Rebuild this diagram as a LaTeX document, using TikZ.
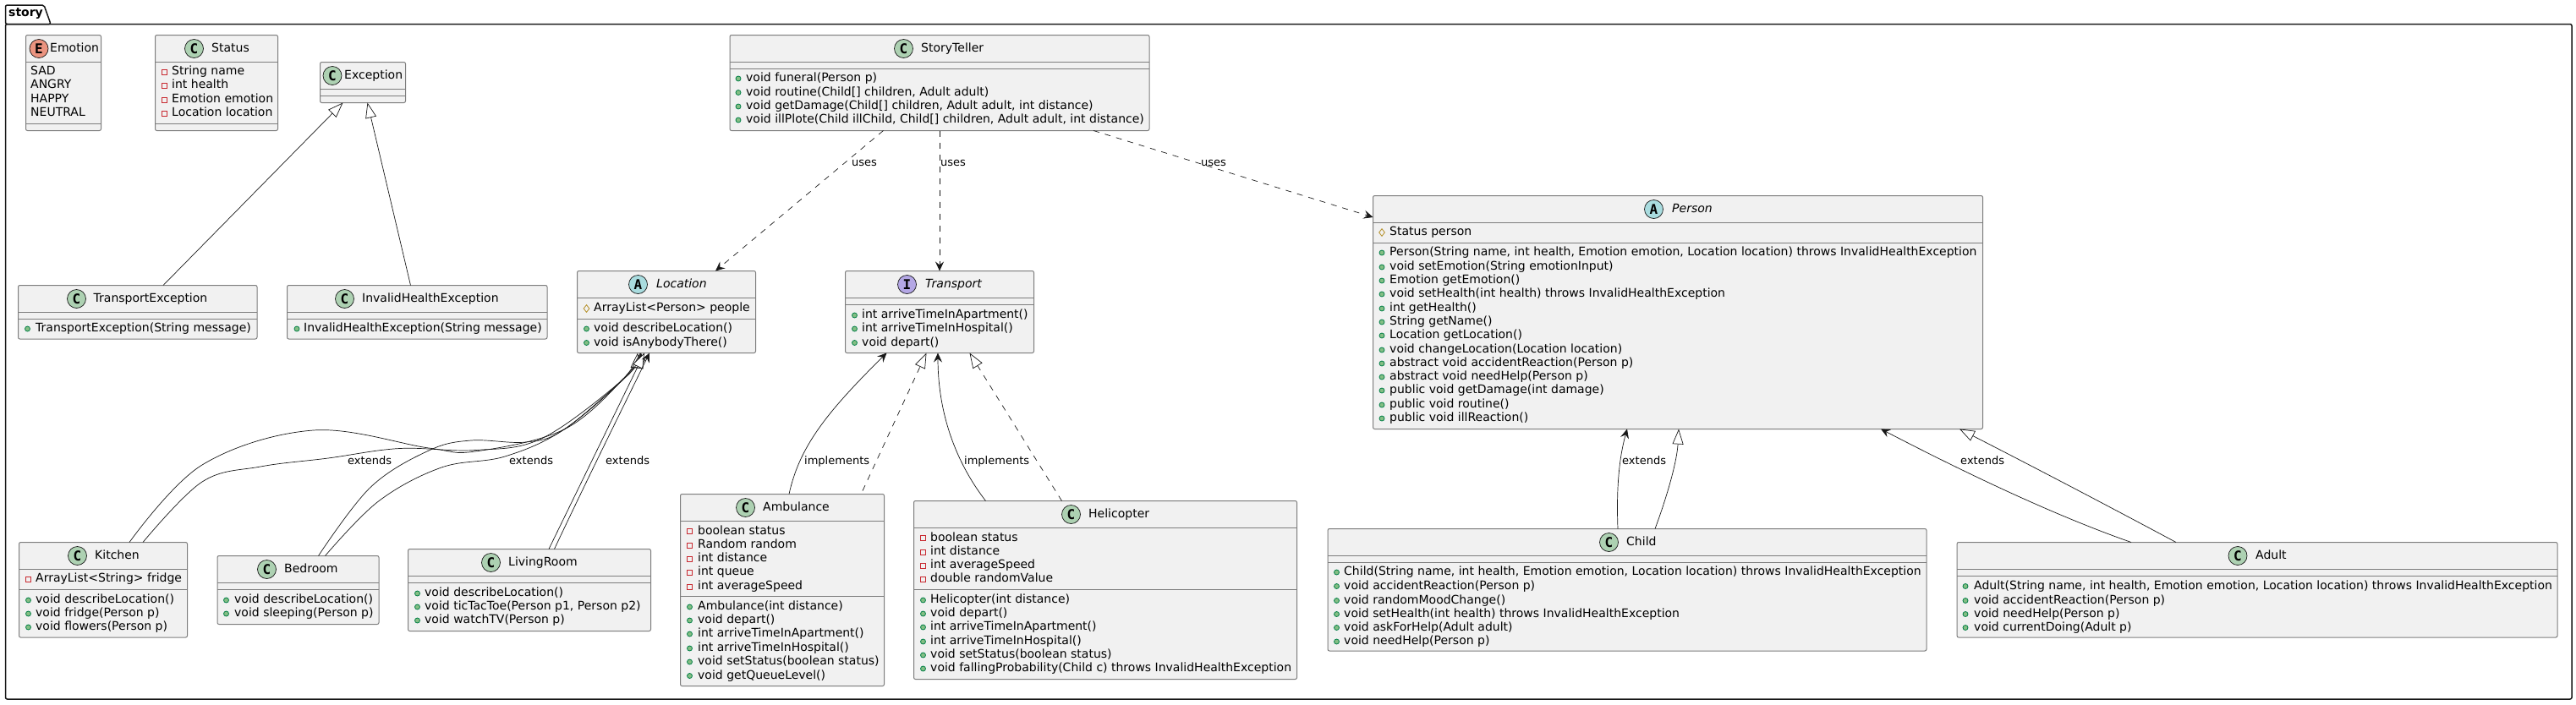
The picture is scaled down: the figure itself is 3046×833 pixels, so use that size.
\documentclass[tikz,border=0pt]{standalone}
\usepackage{fontspec}
\setmainfont{DejaVu Sans}
\setmonofont{DejaVu Sans Mono}
\usetikzlibrary{arrows.meta, shapes.geometric}
\definecolor{boxfill}{RGB}{241, 241, 241}
\definecolor{boxline}{RGB}{125, 125, 125}
\definecolor{inkline}{RGB}{24, 24, 24}
\definecolor{spotclass}{RGB}{173, 209, 178}
\definecolor{spotabstract}{RGB}{169, 220, 223}
\definecolor{spotiface}{RGB}{180, 167, 229}
\definecolor{spotenum}{RGB}{235, 147, 127}
\definecolor{pubfill}{RGB}{132, 190, 132}
\definecolor{publine}{RGB}{3, 128, 72}
\definecolor{privline}{RGB}{200, 41, 48}
\definecolor{protline}{RGB}{179, 141, 34}
\tikzset{
  classbox/.style={draw=boxline, fill=boxfill, line width=1pt, rounded corners=2pt, inner sep=0pt, outer sep=0pt},
  seprule/.style={draw=boxline, line width=1pt},
  spotmark/.style={circle, draw=inkline, line width=0.7pt, minimum size=22pt, inner sep=0pt, font=\ttfamily\bfseries\fontsize{16}{16}\selectfont},
  titletext/.style={anchor=west, inner sep=0pt, text height=10.5pt, text depth=3pt, font=\fontsize{14}{16}\selectfont},
  rowtext/.style={anchor=west, inner sep=0pt, text height=10.5pt, text depth=3pt, font=\fontsize{14}{16}\selectfont},
  edgelabel/.style={anchor=west, inner sep=0pt, text height=10.5pt, text depth=3pt, text=black, font=\fontsize{13}{16}\selectfont},
  pubmark/.style={circle, draw=publine, fill=pubfill, line width=0.8pt, minimum size=6pt, inner sep=0pt},
  privmark/.style={rectangle, draw=privline, line width=0.8pt, minimum size=6pt, inner sep=0pt},
  protmark/.style={diamond, draw=protline, line width=0.8pt, minimum width=7pt, minimum height=9pt, inner sep=0pt},
  uses/.style={draw=inkline, line width=0.7pt, dashed, dash pattern=on 7pt off 7pt, -{Stealth[length=11pt, width=10pt, inset=4pt]}},
  assoc/.style={draw=inkline, line width=0.7pt, -{Stealth[length=11pt, width=10pt, inset=4pt]}},
  inherit/.style={draw=inkline, line width=0.7pt, -{Triangle[length=18pt, width=13pt, fill=white]}},
  realize/.style={inherit, dash pattern=on 7pt off 7pt},
}
\newcommand{\memberrows}[4]{%
  \foreach \kind/\ypos/\txt [count=\i] in {#4}{
    \node[\kind] (#1mark\i) at (#2,\ypos) {};
    \node[rowtext] (#1row\i) at (#3,\ypos) {\txt};
  }%
}
\begin{document}
\begin{tikzpicture}[x=1pt, y=-1pt]
  \useasboundingbox (0,0) rectangle (3046,833);

  % package frame
  \draw[inkline, line width=1.5pt, rounded corners=2pt] (6.5,28.5) -- (6.5,6) -- (52,6) -- (60,28.5) -- cycle;
  \draw[inkline, line width=1.5pt, rounded corners=2pt] (6.5,28.5) rectangle (3041,827);
  \node[titletext, font=\bfseries\fontsize{14}{16}\selectfont] (packagename) at (10,16) {story};

  % class boxes: name, corners, two compartment rules
  \foreach \name/\xa/\ya/\xb/\yb/\sa/\sb in {
      emotion/30.5/41.5/119.5/154.5/73.5/146.5,
      status/183.5/41.5/328.5/154.5/73.5/146.5,
      exception/378.5/73.5/479.5/121.5/105.5/113.5,
      transportexc/21.5/337.5/304/401/369.5/377.5,
      healthexc/339.5/337.5/647/401/369.5/377.5,
      location/682.5/320.5/893.5/417.5/352.5/377.5,
      kitchen/22.5/641.5/221.5/754/673.5/697.5,
      bedroom/257/657.5/448/738.5/689.5/697.5,
      livingroom/482.5/649.5/769.5/746.5/681.5/689.5,
      storyteller/863/41.5/1359/154.5/73.5/81.5,
      transport/999.5/320.5/1222.5/417.5/352.5/360.5,
      ambulance/804.5/584.5/1045.5/811.5/616.5/705.5,
      helicopter/1080.5/592.5/1533.5/803.5/624.5/697.5,
      person/1623.5/231.5/2344.5/507.5/263.5/287.5,
      child/1570/625.5/2278/770/657.5/665.5,
      adult/2314/641.5/3024/754/673.5/681.5}{
    \node[classbox, minimum width={(\xb-\xa)*1pt}, minimum height={(\yb-\ya)*1pt}] (\name) at ({(\xa+\xb)/2},{(\ya+\yb)/2}) {};
    \draw[seprule] (\xa,\sa) -- (\xb,\sa);
    \draw[seprule] (\xa,\sb) -- (\xb,\sb);
  }

  % spots and class names
  \foreach \name/\cx/\cy/\letter/\spot/\tx/\title in {
      emotion/46/57.5/E/spotenum/59/Emotion,
      status/229.5/57.5/C/spotclass/250/Status,
      exception/393/89.5/C/spotclass/407/Exception,
      transportexc/90.5/353.5/C/spotclass/110.5/TransportException,
      healthexc/407.5/353.5/C/spotclass/428/InvalidHealthException,
      kitchen/91.5/657.5/C/spotclass/112/Kitchen,
      bedroom/315.5/673.5/C/spotclass/336/Bedroom,
      livingroom/580.5/665.5/C/spotclass/601/LivingRoom,
      storyteller/1068.5/57.5/C/spotclass/1089/StoryTeller,
      ambulance/881.5/600.5/C/spotclass/902/Ambulance,
      helicopter/1266.5/608.5/C/spotclass/1287/Helicopter,
      child/1902.5/641.5/C/spotclass/1923/Child,
      adult/2646/657.5/C/spotclass/2667/Adult}{
    \node[spotmark, fill=\spot] (\name spot) at (\cx,\cy) {\letter};
    \node[titletext] (\name title) at (\tx,\cy) {\title};
  }
  \foreach \name/\cx/\cy/\letter/\spot/\tx/\title in {
      location/754.5/336.5/A/spotabstract/776/Location,
      transport/1072.5/336.5/I/spotiface/1094/Transport,
      person/1955.5/247.5/A/spotabstract/1977/Person}{
    \node[spotmark, fill=\spot] (\name spot) at (\cx,\cy) {\letter};
    \node[titletext, font=\itshape\fontsize{14}{16}\selectfont] (\name title) at (\tx,\cy) {\title};
  }

  % enum constants
  \foreach \ypos/\txt [count=\i] in {85/SAD, 101/ANGRY, 118/HAPPY, 134/NEUTRAL}{
    \node[rowtext] (emotionrow\i) at (36,\ypos) {\txt};
  }

  % members
  \memberrows{status}{194.5}{203}{privmark/85/String name, privmark/101/int health, privmark/118/Emotion emotion, privmark/134/Location location}
  \memberrows{transportexc}{32.5}{42}{pubmark/389/TransportException(String message)}
  \memberrows{healthexc}{351}{359}{pubmark/389/InvalidHealthException(String message)}
  \memberrows{location}{693.5}{702}{protmark/365/ArrayList<Person> people, pubmark/389/void describeLocation(), pubmark/405.5/void isAnybodyThere()}
  \memberrows{kitchen}{33.5}{42}{privmark/685/ArrayList<String> fridge, pubmark/710/void describeLocation(), pubmark/726/void fridge(Person p), pubmark/742/void flowers(Person p)}
  \memberrows{bedroom}{267.5}{277}{pubmark/710/void describeLocation(), pubmark/726/void sleeping(Person p)}
  \memberrows{livingroom}{493.5}{502}{pubmark/702/void describeLocation(), pubmark/718/{void ticTacToe(Person p1, Person p2)}, pubmark/734/void watchTV(Person p)}
  \memberrows{storyteller}{873}{882}{pubmark/93/void funeral(Person p), pubmark/109.5/{void routine(Child[] children, Adult adult)}, pubmark/126/{void getDamage(Child[] children, Adult adult, int distance)}, pubmark/142/{void illPlote(Child illChild, Child[] children, Adult adult, int distance)}}
  \memberrows{transport}{1010.5}{1019}{pubmark/373/int arriveTimeInApartment(), pubmark/389/int arriveTimeInHospital(), pubmark/405.5/void depart()}
  \memberrows{ambulance}{815.5}{825}{privmark/628.5/boolean status, privmark/645/Random random, privmark/661/int distance, privmark/677/int queue, privmark/694/int averageSpeed, pubmark/718/Ambulance(int distance), pubmark/734/void depart(), pubmark/750/int arriveTimeInApartment(), pubmark/767/int arriveTimeInHospital(), pubmark/783/void setStatus(boolean status), pubmark/799.5/void getQueueLevel()}
  \memberrows{helicopter}{1091.5}{1100}{privmark/636.5/boolean status, privmark/653/int distance, privmark/669/int averageSpeed, privmark/685/double randomValue, pubmark/710/Helicopter(int distance), pubmark/726/void depart(), pubmark/742/int arriveTimeInApartment(), pubmark/759/int arriveTimeInHospital(), pubmark/775/void setStatus(boolean status), pubmark/791/void fallingProbability(Child c) throws InvalidHealthException}
  \memberrows{person}{1634}{1643}{protmark/275/Status person, pubmark/299/{Person(String name, int health, Emotion emotion, Location location) throws InvalidHealthException}, pubmark/316/void setEmotion(String emotionInput), pubmark/332/Emotion getEmotion(), pubmark/348/void setHealth(int health) throws InvalidHealthException, pubmark/365/int getHealth(), pubmark/381/String getName(), pubmark/397/Location getLocation(), pubmark/414/void changeLocation(Location location), pubmark/430/abstract void accidentReaction(Person p), pubmark/446/abstract void needHelp(Person p), pubmark/462/public void getDamage(int damage), pubmark/479/public void routine(), pubmark/495/public void illReaction()}
  \memberrows{child}{1580.5}{1589}{pubmark/677/{Child(String name, int health, Emotion emotion, Location location) throws InvalidHealthException}, pubmark/693.5/void accidentReaction(Person p), pubmark/710.5/void randomMoodChange(), pubmark/726.5/void setHealth(int health) throws InvalidHealthException, pubmark/742.5/void askForHelp(Adult adult), pubmark/759/void needHelp(Person p)}
  \memberrows{adult}{2324}{2334}{pubmark/693.5/{Adult(String name, int health, Emotion emotion, Location location) throws InvalidHealthException}, pubmark/710.5/void accidentReaction(Person p), pubmark/726.5/void needHelp(Person p), pubmark/742.5/void currentDoing(Adult p)}

  % exceptions
  \draw[inherit] ([xshift=171.5pt]transportexc.north west) -- ([xshift=27pt]exception.south west);
  \draw[inherit] ([xshift=146pt]healthexc.north west) -- ([xshift=56pt]exception.south west);

  % storyteller dependencies
  \draw[uses] ([xshift=181.5pt]storyteller.south west) -- ([xshift=163.5pt]location.north west);
  \draw[uses] ([xshift=248pt]storyteller.south west) -- ([xshift=111.5pt]transport.north west);
  \draw[uses] ([xshift=430pt]storyteller.south west) -- ([yshift=-25.5pt]person.north west);

  % rooms to location
  \draw[inherit] plot[smooth, tension=0.6] coordinates {([xshift=130.5pt]kitchen.north west) (239,550) (370.5,509) (507,530) (562,534) (667,508) (738,447) ([xshift=71.5pt]location.south west)};
  \draw[assoc] plot[smooth, tension=0.6] coordinates {([xshift=146.5pt]kitchen.north west) (239,570) (308,552) (388,542) (472.5,530.5) (562,532.5) (642,518) (740,446) ([xshift=74.5pt]location.south west)};
  \draw[inherit] plot[smooth, tension=0.6] coordinates {([xshift=119.5pt]bedroom.north west) (438,576.5) (507,533) (557,521) (622,523) (667,508) (740,445) ([xshift=74.5pt]location.south west)};
  \draw[assoc] plot[smooth, tension=0.6] coordinates {([xshift=127.5pt]bedroom.north west) (447.5,593) (522,553) (597,540) (667,508) (742,444) ([xshift=75.5pt]location.south west)};
  \draw[inherit] ([xshift=166.5pt]livingroom.north west) -- ([xshift=79.5pt]location.south west);
  \draw[assoc] ([xshift=173pt]livingroom.north west) .. controls (700,555) and (745,465) .. ([xshift=85.5pt]location.south west);

  % vehicles to transport
  \draw[assoc] ([xshift=128.5pt]ambulance.north west) .. controls (945,530) and (975,490) .. ([xshift=49pt]transport.south west);
  \draw[realize] ([xshift=215.5pt,yshift=4pt]ambulance.north west) -- ([xshift=96pt]transport.south west);
  \draw[assoc] ([xshift=85pt]helicopter.north west) .. controls (1125,540) and (1109,480) .. ([xshift=109.5pt]transport.south west);
  \draw[realize] ([xshift=175pt]helicopter.north west) -- ([xshift=147pt]transport.south west);

  % child and adult to person
  \draw[assoc] ([xshift=343pt]child.north west) .. controls (1911,575) and (1915,540) .. ([xshift=300.5pt]person.south west);
  \draw[inherit] ([xshift=387pt]child.north west) .. controls (1972,585) and (1983,545) .. ([xshift=361.5pt]person.south west);
  \draw[assoc] ([xshift=206pt]adult.north west) .. controls (2430,610) and (2325,560) .. ([xshift=600.5pt]person.south west);
  \draw[inherit] ([xshift=259pt]adult.north west) .. controls (2490,597) and (2400,550) .. ([xshift=693.5pt]person.south west);

  % connector labels
  \foreach \lblname/\lx/\ly/\lbl in {
      usesa/1007/193/uses, usesb/1112/193/uses, usesc/1420/193/uses,
      extkitchen/411/545.5/extends, extbedroom/602/545.5/extends, extliving/716/545.5/extends,
      implamb/951/545.5/implements, implheli/1140/545.5/implements,
      extchild/1918/545.5/extends, extadult/2318/545.5/extends}{
    \node[edgelabel] (\lblname) at (\lx,\ly) {\lbl};
  }
\end{tikzpicture}
\end{document}
